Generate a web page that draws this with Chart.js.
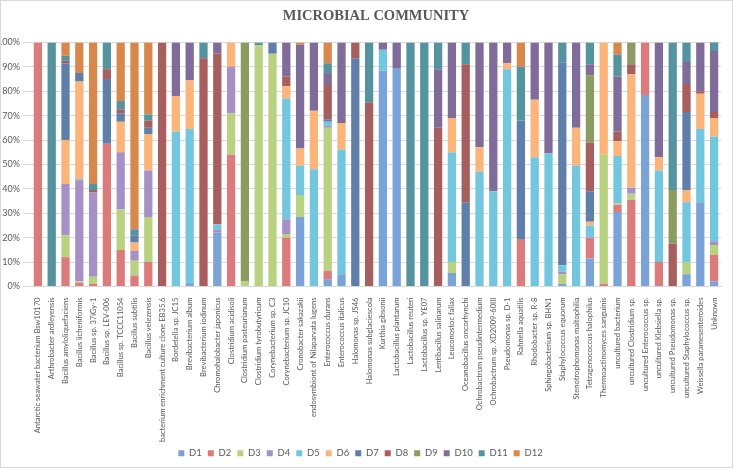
<!DOCTYPE html>
<html>
<head>
<meta charset="utf-8">
<script src="https://cdn.jsdelivr.net/npm/chart.js@4.4.0/dist/chart.umd.min.js"></script>
<style>
  html, body { margin: 0; padding: 0; background: #ffffff; }
  #wrap { width: 733px; height: 468px; }
</style>
</head>
<body>
<div id="wrap"><canvas id="community-chart" width="733" height="468"></canvas></div>
<script>
// categorias (eje x)
const categories = [
  'Antarctic seawater bacterium Bsw10170', 'Arthrobacter ardleyensis', 'Bacillus amyloliquefaciens',
  'Bacillus licheniformis', 'Bacillus sp. 37iGy-1', 'Bacillus sp. LEV-006', 'Bacillus sp. TCCC11054',
  'Bacillus subtilis', 'Bacillus velezensis', 'bacterium enrichment culture clone EB35.6',
  'Bordetella sp. JC15', 'Brevibacterium album', 'Brevibacterium iodinum', 'Chromohalobacter japonicus',
  'Clostridium acidisoli', 'Clostridium pasteurianum', 'Clostridium tyrobutyricum', 'Corynebacterium sp. C3',
  'Corynebacterium sp. JC10', 'Cronobacter sakazakii', 'endosymbiont of Nilaparvata lugens',
  'Enterococcus durans', 'Enterococcus italicus', 'Halomonas sp. JS46', 'Halomonas subglaciescola',
  'Kurthia gibsonii', 'Lactobacillus plantarum', 'Lactobacillus reuteri', 'Lactobacillus sp. YE07',
  'Lentibacillus salinarum', 'Leuconostoc fallax', 'Oceanobacillus oncorhynchi',
  'Ochrobactrum pseudintermedium', 'Ochrobactrum sp. XD2009-60III', 'Pseudomonas sp. D-1',
  'Rahnella aquatilis', 'Rhodobacter sp. R-8', 'Sphingobacterium sp. BHN1', 'Staphylococcus equorum',
  'Stenotrophomonas maltophilia', 'Tetragenococcus halophilus', 'Thermoactinomyces sanguinis',
  'uncultured bacterium', 'uncultured Clostridium sp.', 'uncultured Enterococcus sp.',
  'uncultured Klebsiella sp.', 'uncultured Pseudomonas sp.', 'uncultured Staphylococcus sp.',
  'Weissella paramesenteroides', 'Unknown'
];

const seriesNames = ['D1', 'D2', 'D3', 'D4', 'D5', 'D6', 'D7', 'D8', 'D9', 'D10', 'D11', 'D12'];

// porcentajes por serie
const d1 = [0,0,0,0,0,0,0,0,0,0, 0,1.5,0,22,0,0,0,0,0,28.5, 0,3,5,0,0,88.5,89.5,0,0,0, 5.5,0,0,0,0,0,0,0,1,0, 11.5,0,30.5,0,78.5,0,0,5,34.5,2];
const d2 = [100,0,12,1.5,1,58.5,15,4.5,10,0, 0,0,0,0,54,0,0,0,20,0, 0,3.5,0,0,0,0,0,0,0,0, 0,0,0,0,0,19.5,0,0,0,0, 8.5,1,3,35.5,21.5,10,0,0,0,11];
const d3 = [0,0,9,0.5,3,0,16.5,6,18.5,0, 0,0,0,0,17,2,98.8,95.3,1.5,9, 0,58.5,0,0,0,0,0,0,0,0, 4.5,0,0,0,0,0,0,0,4,0, 0,53,0.5,2.5,0,0,0,5,0,4];
const d4 = [0,0,21,41.5,34.5,0,23.5,4,19,0, 0,0,0,1.5,19,0,0,0,6,0, 0,1,0,0,0,0,0,0,0,0, 0,0,0,0,0,0,0,0,1,0, 0,0,0,2.5,0,0,0,0,0,1.5];
const d5 = [0,0,0,0.5,0,0,0,0,0,0, 63.5,63,0,2,0,0,0,0,49.5,12, 48,1.5,51,0,0,8.5,0,0,0,0, 45,0,47,39,89,0,53,54.5,2.7,49.5, 5,0,19.5,0,0,37.5,0,24.5,30,43];
const d6 = [0,0,18,40,0,0,12.5,3.5,15,0, 14.5,20,0,0,10,0,0,0,5,7, 24,0,11,0,0,0,0,0,0,0, 14,0,10,0,2.5,0,23.5,0,0,15.5, 1.5,46,6,46.5,0,5.5,0,5,14.5,7.5];
const d7 = [0,0,31.5,3.5,0,26.5,3.5,3,2.5,0, 0,0,0,0,0,0,0,4.7,0,0, 0,1,0,93.5,0,0,0,0,0,0, 0,34.5,0,0,0,48.5,0,0,83,0, 12.5,0,0,0,0,0,0,32,0,0];
const d8 = [0,0,1,0,1,4,1.5,0,3,100, 0,0,93.5,70,0,0,0,0,4,0, 0,14,0,6.5,75.5,0,0,0,0,65, 0,56.5,0,0,0,0,0,0,0,0, 20,0,4,4,0,0,17.5,11.5,1,2.5];
const d9 = [0,0,0,0,0,0,0,0,0,0, 0,0,0,0,0,98,0,0,0,0, 0,0,0,0,0,0,0,0,0,0, 0,0,0,0,0,0,0,0,0,0, 27.5,0,0,9,0,0,22,0,0,0];
const d10 = [0,0,0,0,0,0,0,0,0,0, 22,15.5,0,4.5,0,0,0,0,14,42.5, 28,5,33,0,0,3,10.5,0,0,24, 31,0,43,61,8.5,0,23.5,45.5,0,35, 4.5,0,22.5,0,0,47,0,9,20,25];
const d11 = [0,100,2,0,2.5,11,3.5,2.5,2.5,0, 0,0,6.5,0,0,0,1.2,0,0,0, 0,4,0,0,24.5,0,0,100,100,11, 0,9,0,0,0,22,0,0,8.3,0, 9,0,9,0,0,0,60.5,8,0,4];
const d12 = [0,0,5.5,12.5,58,0,24,76.5,29.5,0, 0,0,0,0,0,0,0,0,0,1, 0,8.5,0,0,0,0,0,0,0,0, 0,0,0,0,0,10,0,0,0,0, 0,0,5,0,0,0,0,0,0,0];

const yTicks = [0, 10, 20, 30, 40, 50, 60, 70, 80, 90, 100];

const seriesData = [d1, d2, d3, d4, d5, d6, d7, d8, d9, d10, d11, d12];
const colors = ['#7ba3d8', '#db7b7b', '#b9d282', '#a691c6', '#72c7de', '#fbb57a',
                '#5f7fa8', '#a65e5e', '#8b9b62', '#7f6c98', '#55939f', '#d9884b'];

const gray = '#595959';

const frame = {
  id: 'frame',
  afterDraw(chart) {
    const c = chart.ctx;
    c.save();
    c.strokeStyle = '#d9d9d9';
    c.lineWidth = 1;
    c.strokeRect(0.5, 0.5, chart.width - 1, chart.height - 1);
    c.restore();
  }
};

const ctx = document.getElementById('community-chart').getContext('2d');
const communityChart = new Chart(ctx, {
  type: 'bar',
  data: {
    labels: categories,
    datasets: seriesNames.map((name, i) => ({
      label: name,
      data: seriesData[i],
      backgroundColor: colors[i],
      borderWidth: 0,
      barPercentage: 0.6,
      categoryPercentage: 1
    }))
  },
  options: {
    responsive: false,
    animation: false,
    layout: { padding: { left: 0, right: 12, top: 0, bottom: 0 } },
    plugins: {
      title: {
        display: true,
        fullSize: false,
        text: 'MICROBIAL COMMUNITY',
        color: gray,
        font: { family: 'Liberation Serif', size: 14.5, weight: 'bold' },
        padding: { top: 8, bottom: 17 }
      },
      legend: {
        position: 'bottom',
        labels: {
          color: gray,
          boxWidth: 6,
          boxHeight: 6,
          padding: 6,
          font: { family: 'Lato', size: 9.5 }
        }
      },
      tooltip: { enabled: false }
    },
    scales: {
      x: {
        stacked: true,
        grid: { display: false },
        border: { color: '#d9d9d9' },
        ticks: {
          color: gray,
          font: { family: 'Lato', size: 7.6 },
          autoSkip: false,
          minRotation: 90,
          maxRotation: 90,
          padding: 3
        },
        afterFit(scale) { scale.height = 156; }
      },
      y: {
        stacked: true,
        min: 0,
        max: 100,
        border: { display: false },
        grid: { color: '#d9d9d9' },
        afterBuildTicks(scale) { scale.ticks = yTicks.map(v => ({ value: v })); },
        ticks: {
          color: gray,
          font: { family: 'Lato', size: 9 },
          padding: 3,
          callback: v => v + '%'
        },
        afterFit(scale) { scale.width = 31; }
      }
    }
  },
  plugins: [frame]
});
</script>
</body>
</html>
